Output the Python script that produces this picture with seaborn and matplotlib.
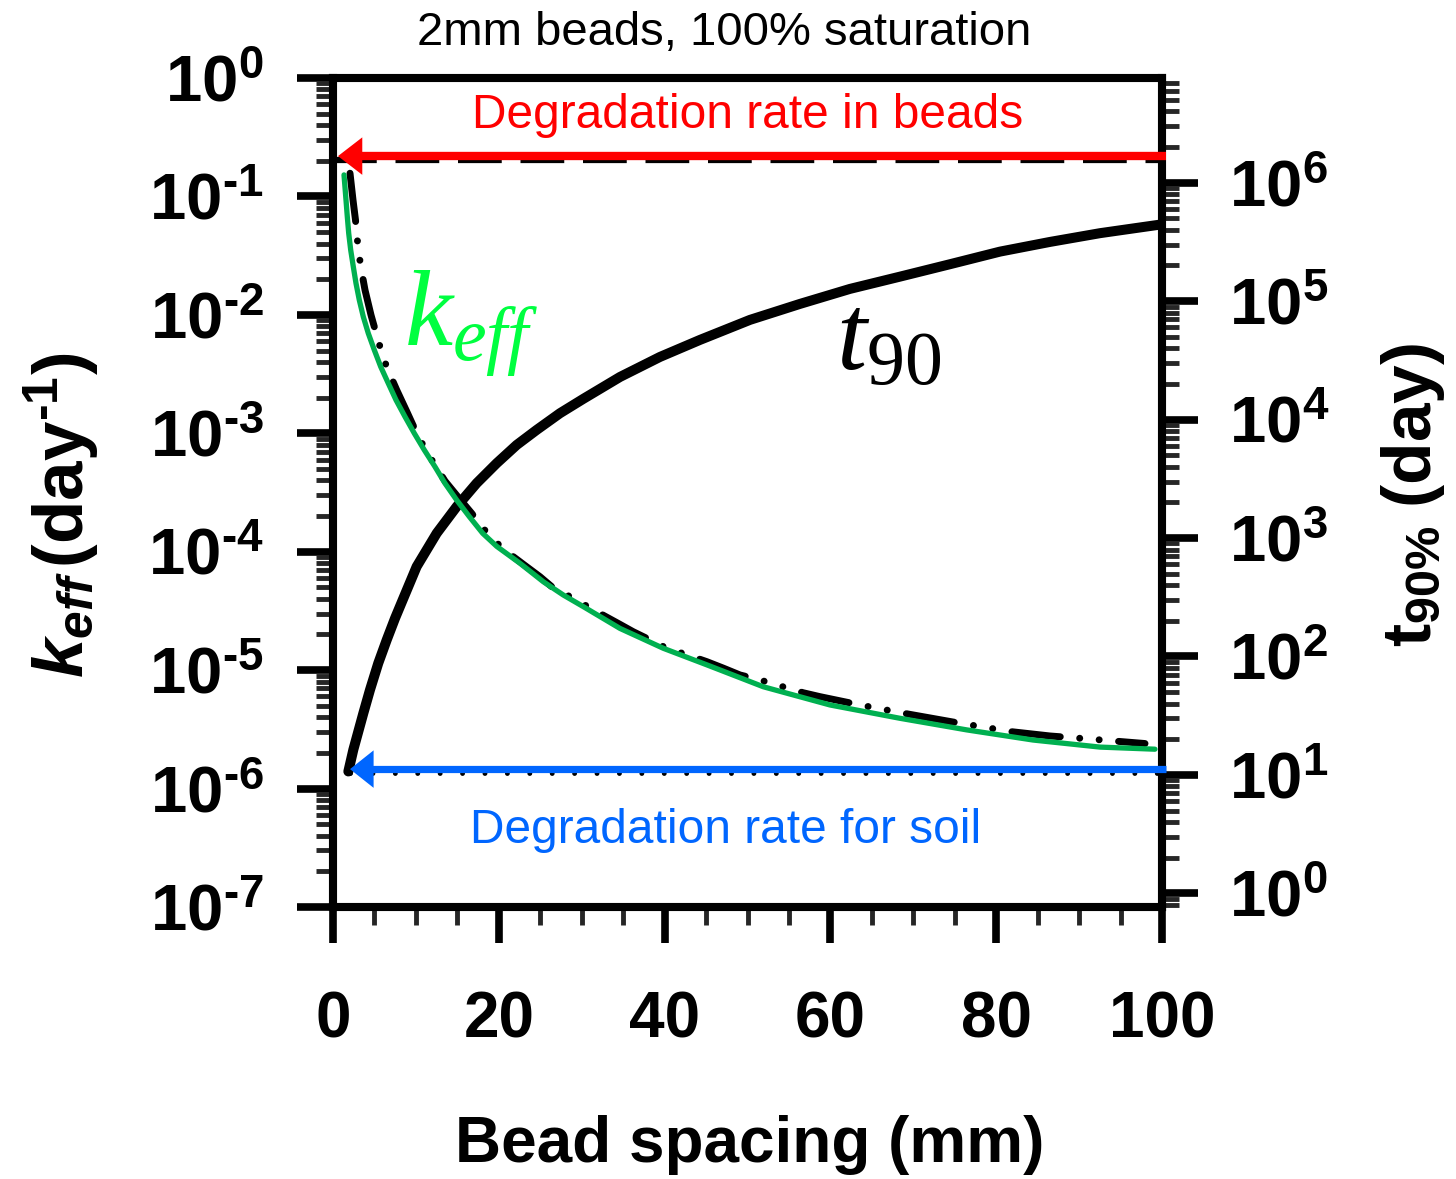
import numpy as np
import pandas as pd
import matplotlib
matplotlib.use("Agg")
import matplotlib.pyplot as plt
import seaborn as sns
from matplotlib.ticker import LogLocator, FuncFormatter, MultipleLocator, NullFormatter, FixedLocator

# ---------------- data ----------------
keff_spacing = [1.327, 1.568, 1.725, 1.894, 2.135, 2.449, 2.775, 3.172, 3.655, 4.258, 4.982,
                5.754, 6.671, 7.600, 8.685, 9.807, 11.01, 12.30, 13.51, 14.92, 16.44, 18.06,
                19.75, 22.56, 25.37, 27.78, 30.19, 34.62, 39.84, 45.07, 51.91, 59.95, 68.40,
                76.44, 84.44, 92.52, 99.15]
keff_values = [0.152, 0.0933, 0.0674, 0.0489, 0.0353, 0.0255, 0.01846, 0.01334, 9.64e-3,
               6.98e-3, 5.05e-3, 3.65e-3, 2.64e-3, 1.91e-3, 1.38e-3, 1.00e-3, 7.23e-4, 5.22e-4,
               3.78e-4, 2.73e-4, 1.98e-4, 1.43e-4, 1.11e-4, 7.98e-5, 5.58e-5, 4.31e-5, 3.44e-5,
               2.25e-5, 1.53e-5, 1.11e-5, 7.24e-6, 5.08e-6, 3.92e-6, 3.13e-6, 2.57e-6, 2.24e-6,
               2.15e-6]

model_spacing = [2.051, 2.413, 2.714, 3.052, 3.462, 3.860, 4.584, 5.428, 6.152, 6.997, 7.684,
                 8.987, 10.29, 11.34, 12.36, 13.51, 15.08, 16.73, 17.94, 19.34, 20.95, 22.92,
                 24.97, 26.38, 28.19, 30.00, 32.21, 34.41, 36.22, 38.24, 40.25, 42.66, 45.08,
                 47.08, 49.10, 51.51, 54.16, 56.73, 58.75, 63.57, 68.79, 75.63, 81.87, 86.49,
                 91.31, 95.14, 97.95]
model_values = [0.157, 0.0933, 0.0632, 0.0353, 0.0231, 0.01622, 9.97e-3, 6.14e-3, 4.16e-3,
                2.99e-3, 2.32e-3, 1.48e-3, 9.35e-4, 6.95e-4, 5.30e-4, 3.95e-4, 2.90e-4, 2.11e-4,
                1.63e-4, 1.26e-4, 1.00e-4, 7.87e-5, 6.15e-5, 5.07e-5, 4.32e-5, 3.67e-5, 3.01e-5,
                2.48e-5, 2.11e-5, 1.80e-5, 1.53e-5, 1.35e-5, 1.18e-5, 1.04e-5, 9.10e-6, 8.26e-6,
                7.28e-6, 6.44e-6, 5.97e-6, 5.08e-6, 4.33e-6, 3.56e-6, 3.02e-6, 2.78e-6, 2.62e-6,
                2.49e-6, 2.40e-6]

t90_spacing = [1.85, 2.45, 3.66, 4.46, 5.46, 6.48, 7.48, 8.48, 10.09, 12.51, 14.92, 17.33,
               19.75, 22.16, 24.57, 27.38, 30.19, 34.62, 39.44, 44.27, 50.30, 56.33, 62.36,
               68.40, 74.43, 80.46, 86.49, 92.52, 96.14, 99.76]
t90_values = [10.7, 16.3, 33.2, 52.2, 87.7, 138, 210, 309, 574, 1098, 1842, 2904, 4285, 6110,
              8185, 11320, 14960, 22910, 33810, 47090, 69500, 94800, 126900, 161100, 205100,
              262000, 316300, 374900, 407500, 442800]

bead_rate = 0.219          # red arrow
bead_model = 0.203         # black dashed under red
soil_rate = 1.46e-6        # blue arrow
soil_model = 1.36e-6       # black dotted under blue

x_ticks = [0, 20, 40, 60, 80, 100]
left_exps = [-7, -6, -5, -4, -3, -2, -1, 0]
right_exps = [0, 1, 2, 3, 4, 5, 6]

title = "2mm beads, 100% saturation"
xlabel = "Bead spacing (mm)"
bead_text = "Degradation rate in beads"
soil_text = "Degradation rate for soil"

HY = "\u2010"  # short hyphen as in the reference exponents

# ---------------- style ----------------
sns.set_theme(style="white")
plt.rcParams["font.family"] = ["Liberation Sans", "DejaVu Sans"]
plt.rcParams["mathtext.fontset"] = "custom"
plt.rcParams["mathtext.rm"] = "Liberation Serif"
plt.rcParams["mathtext.it"] = "Liberation Serif:italic"
plt.rcParams["mathtext.bf"] = "Liberation Sans:bold"
plt.rcParams["mathtext.bfit"] = "Liberation Sans:bold:italic"

W, H = 1456, 1179
fig = plt.figure(figsize=(W / 100, H / 100), dpi=100)
fig.patch.set_facecolor("white")

L, R, T, B = 333, 1162, 78, 907
ax = fig.add_axes([L / W, 1 - B / H, (R - L) / W, (B - T) / H])
ax2 = ax.twinx()

RED = "#ff0000"
BLUE = "#0066ff"
GREEN = "#00b050"
KGREEN = "#00ff40"

df_keff = pd.DataFrame({"spacing": keff_spacing, "k": keff_values})
df_model = pd.DataFrame({"spacing": model_spacing, "k": model_values})
df_t90 = pd.DataFrame({"spacing": t90_spacing, "t": t90_values})

# t90 on right axis
sns.lineplot(data=df_t90, x="spacing", y="t", ax=ax2, color="black", lw=7.2,
             estimator=None, sort=True, solid_capstyle="round", solid_joinstyle="round")

# model dash-dot-dot and green keff on left axis
sns.lineplot(data=df_model, x="spacing", y="k", ax=ax, color="black", lw=5,
             estimator=None, linestyle=(0, (7, 2.8, 0.01, 2.8, 0.01, 2.8)),
             dash_capstyle="round", dash_joinstyle="round", zorder=3)
sns.lineplot(data=df_keff, x="spacing", y="k", ax=ax, color=GREEN, lw=3.8,
             estimator=None, solid_joinstyle="round", zorder=4)

# horizontal reference lines
ax.plot([0.0, 100.0], [bead_model, bead_model], color="black", lw=4.5,
        linestyle=(0, (7, 3)), zorder=2, clip_on=False)
ax.plot([2.0, 100.0], [soil_model, soil_model], color="black", lw=3.5,
        linestyle=(0, (0.01, 4.6)), dash_capstyle="round", zorder=2, clip_on=False)

# arrows
red_tip, red_end = 0.6, 100.5
blue_tip, blue_end = 2.05, 100.5
ax.plot([red_tip + 2.5, red_end], [bead_rate, bead_rate], color=RED, lw=6,
        zorder=5, clip_on=False, solid_capstyle="butt")
ax.annotate("", xy=(red_tip, bead_rate), xytext=(red_tip + 12, bead_rate),
            arrowprops=dict(arrowstyle="-|>,head_length=17.5,head_width=13.5",
                            mutation_scale=1, lw=0, color=RED, shrinkA=0, shrinkB=0),
            annotation_clip=False, zorder=6)
ax.plot([blue_tip + 2.5, blue_end], [soil_rate, soil_rate], color=BLUE, lw=5.2,
        zorder=5, clip_on=False, solid_capstyle="butt")
ax.annotate("", xy=(blue_tip, soil_rate), xytext=(blue_tip + 12, soil_rate),
            arrowprops=dict(arrowstyle="-|>,head_length=17,head_width=13.5",
                            mutation_scale=1, lw=0, color=BLUE, shrinkA=0, shrinkB=0),
            annotation_clip=False, zorder=6)

# ---------------- axes ----------------
ax.set_yscale("log")
ax2.set_yscale("log")
ax.set_xlim(0, 100)
ax.set_ylim(1e-7, 1)
ax2.set_ylim(10 ** -0.115, 10 ** 6.884)
ax.set_xlabel("")
ax.set_ylabel("")
ax2.set_ylabel("")

ax.set_zorder(ax2.get_zorder() + 1)
ax.patch.set_visible(False)


def exp_label(v, p):
    e = int(round(np.log10(v)))
    s = str(abs(e))
    if e < 0:
        s = HY + s
    return r"$\mathbf{10^{%s}}$" % s


fmt = FuncFormatter(exp_label)
ax.yaxis.set_major_locator(FixedLocator([10.0 ** e for e in left_exps]))
ax.yaxis.set_minor_locator(LogLocator(base=10, subs=np.arange(2, 10), numticks=30))
ax.yaxis.set_major_formatter(fmt)
ax.yaxis.set_minor_formatter(NullFormatter())
ax2.yaxis.set_major_locator(FixedLocator([10.0 ** e for e in right_exps]))
ax2.yaxis.set_minor_locator(LogLocator(base=10, subs=np.arange(2, 10), numticks=30))
ax2.yaxis.set_major_formatter(fmt)
ax2.yaxis.set_minor_formatter(NullFormatter())

ax.xaxis.set_major_locator(FixedLocator(x_ticks))
ax.xaxis.set_minor_locator(MultipleLocator(5))
ax.set_xticklabels([str(v) for v in x_ticks])

for a in (ax, ax2):
    for s in a.spines.values():
        s.set_linewidth(5.8)
        s.set_color("black")

ax.tick_params(axis="y", which="major", direction="out", length=26, width=5.5,
               left=True, right=False, labelsize=47, pad=24, colors="black")
ax.tick_params(axis="y", which="minor", direction="out", length=12, width=3.5,
               left=True, right=False)
ax2.tick_params(axis="y", which="major", direction="out", length=26, width=5.5,
                left=False, right=True, labelsize=47, pad=22, colors="black")
ax2.tick_params(axis="y", which="minor", direction="out", length=12, width=3.5,
                left=False, right=True)
ax.tick_params(axis="x", which="major", direction="out", length=26, width=5.5,
               bottom=True, top=False, labelsize=46, pad=34, colors="black")
ax.tick_params(axis="x", which="minor", direction="out", length=13, width=3.5,
               bottom=True, top=False)
for lab in ax.get_xticklabels():
    lab.set_fontweight("bold")

# ---------------- texts ----------------
def fx(px):
    return px / W

def fy(py):
    return 1 - py / H

fig.text(fx(724), fy(45), title, ha="center", va="baseline", fontsize=34, color="black")
fig.text(fx(750), fy(1145), xlabel, ha="center", va="center", fontsize=46,
         fontweight="bold", color="black")
fig.text(fx(62), fy(515),
         r"$\mathbfit{k}_{\mathbfit{eff}}\,\mathbf{(day^{%s1})}$" % HY,
         rotation=90, ha="center", va="center", fontsize=51, color="black")
fig.text(fx(1413), fy(495), r"$\mathbf{t}_{\mathbf{90\%}}\ \mathbf{(day)}$",
         rotation=90, ha="center", va="center", fontsize=50, color="black")

fig.text(fx(748), fy(128), bead_text, ha="center", va="baseline", fontsize=34.5, color=RED)
fig.text(fx(726), fy(843), soil_text, ha="center", va="baseline", fontsize=34.5, color=BLUE)

fig.text(fx(404), fy(345), r"$k_{eff}$", ha="left", va="baseline", fontsize=78, color=KGREEN)
fig.text(fx(836), fy(370), r"$t_{\mathrm{90}}$", ha="left", va="baseline", fontsize=78,
         color="black")

fig.savefig("out.png", dpi=100, facecolor="white")
